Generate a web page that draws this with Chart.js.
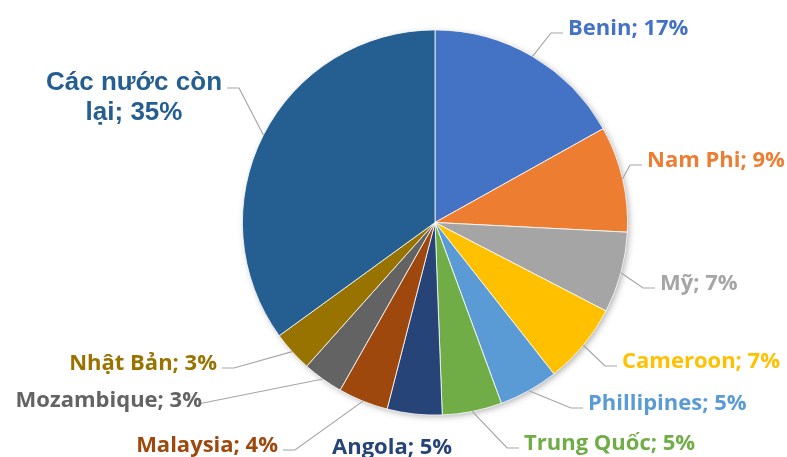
<!DOCTYPE html>
<html>
<head>
<meta charset="utf-8">
<script src="https://cdn.jsdelivr.net/npm/chart.js@4"></script>
<style>
  html, body { margin: 0; padding: 0; background: #fff; }
  #pie { display: block; }
</style>
</head>
<body>
<canvas id="pie" width="787" height="457"></canvas>
<script>
// ── Data ───────────────────────────────────────────────────────
const categories = ['Benin', 'Nam Phi', 'Mỹ', 'Cameroon', 'Phillipines', 'Trung Quốc',
  'Angola', 'Malaysia', 'Mozambique', 'Nhật Bản', 'Các nước còn lại'];
const shares = [16.9, 8.9, 6.8, 6.8, 5.0, 5.0, 4.6, 4.2, 3.4, 3.4, 35.0];
const sliceColors = ['#4472C4', '#ED7D31', '#A5A5A5', '#FFC000', '#5B9BD5', '#70AD47',
  '#264478', '#9E480E', '#636363', '#997300', '#255E91'];

// ── Label placement (text anchor = baseline; leader: elbow / straight / none) ──
const labelLayout = [
  { x: 568, y: 35,  align: 'left',  leader: 'elbow' },
  { x: 647, y: 167, align: 'left',  leader: 'elbow' },
  { x: 660, y: 290, align: 'left',  leader: 'elbow' },
  { x: 622, y: 368, align: 'left',  leader: 'elbow' },
  { x: 588, y: 410, align: 'left',  leader: 'elbow' },
  { x: 524, y: 450, align: 'left',  leader: 'elbow' },
  { x: 332, y: 454, align: 'left',  leader: 'none' },
  { x: 278, y: 452, align: 'right', leader: 'elbow' },
  { x: 202, y: 407, align: 'right', leader: 'straight' },
  { x: 217, y: 370, align: 'right', leader: 'elbow' },
  { x: 134, y: 90,  align: 'center', leader: 'elbow', wrap: 190, lineHeight: 30, font: 'bold 26px "Liberation Sans", Arial, sans-serif' },
];
const LABEL_FONT = 'bold 22px "Open Sans", Lato, sans-serif';
const LEADER_COLOR = '#A6A6A6';

// ── Helpers ────────────────────────────────────────────────────
function wrapText(ctx, text, maxWidth) {
  if (!maxWidth) return [text];
  const words = text.split(' ');
  const lines = [];
  let cur = '';
  words.forEach(w => {
    const test = cur ? cur + ' ' + w : w;
    if (cur && ctx.measureText(test).width > maxWidth) {
      lines.push(cur);
      cur = w;
    } else {
      cur = test;
    }
  });
  if (cur) lines.push(cur);
  return lines;
}

// soft shadow under the whole pie
const pieShadow = {
  id: 'pieShadow',
  beforeDatasetsDraw(chart) {
    const arc = chart.getDatasetMeta(0).data[0];
    if (!arc) return;
    const { x, y, outerRadius } = arc.getProps(['x', 'y', 'outerRadius'], true);
    const c = chart.ctx;
    c.save();
    c.shadowColor = 'rgba(0,0,0,0.35)';
    c.shadowBlur = 7;
    c.shadowOffsetX = 2;
    c.shadowOffsetY = 2;
    c.beginPath();
    c.arc(x, y, outerRadius - 1, 0, Math.PI * 2);
    c.fillStyle = '#fff';
    c.fill();
    c.restore();
  }
};

// data labels with leader lines
const pieLabels = {
  id: 'pieLabels',
  afterDatasetsDraw(chart) {
    const c = chart.ctx;
    const meta = chart.getDatasetMeta(0);
    meta.data.forEach((arc, i) => {
      const lay = labelLayout[i];
      const { x, y, startAngle, endAngle, outerRadius } =
        arc.getProps(['x', 'y', 'startAngle', 'endAngle', 'outerRadius'], true);
      const mid = (startAngle + endAngle) / 2;
      const px = x + Math.cos(mid) * outerRadius;
      const py = y + Math.sin(mid) * outerRadius;

      const text = `${categories[i]}; ${Math.round(shares[i])}%`;
      c.save();
      c.font = lay.font || LABEL_FONT;
      c.textBaseline = 'alphabetic';
      c.textAlign = lay.align;
      const lines = wrapText(c, text, lay.wrap);
      const w0 = c.measureText(lines[0]).width;

      // leader
      if (lay.leader !== 'none') {
        let edge;
        if (lay.align === 'left') edge = lay.x;
        else if (lay.align === 'right') edge = lay.x;
        else edge = lay.x + w0 / 2;
        const dir = lay.align === 'left' ? -1 : 1;
        const ly = lay.y - 2;
        c.strokeStyle = LEADER_COLOR;
        c.lineWidth = 1.2;
        c.beginPath();
        c.moveTo(px, py);
        if (lay.leader === 'elbow') {
          c.lineTo(edge + dir * 17, ly);
          c.lineTo(edge + dir * 5, ly);
        } else {
          c.lineTo(edge - 4, lay.y - 3);
        }
        c.stroke();
      }

      c.fillStyle = sliceColors[i];
      lines.forEach((ln, k) => c.fillText(ln, lay.x, lay.y + k * (lay.lineHeight || 28)));
      c.restore();
    });
  }
};

// ── Chart ──────────────────────────────────────────────────────
const chart = new Chart(document.getElementById('pie').getContext('2d'), {
  type: 'pie',
  data: {
    labels: categories,
    datasets: [{
      data: shares,
      backgroundColor: sliceColors,
      borderColor: '#ffffff',
      borderWidth: 0.8,
      hoverOffset: 0,
      offset: 0,
    }],
  },
  options: {
    responsive: false,
    animation: false,
    layout: { padding: { left: 242, right: 159, top: 29, bottom: 41 } },
    plugins: {
      legend: { display: false },
      tooltip: { enabled: false },
    },
  },
  plugins: [pieShadow, pieLabels],
});
</script>
</body>
</html>
